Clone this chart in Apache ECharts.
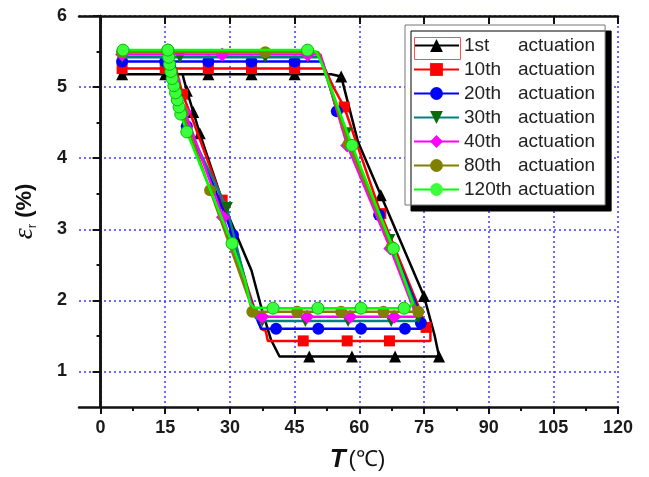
<!DOCTYPE html>
<html>
<head>
<meta charset="utf-8">
<script src="https://cdn.jsdelivr.net/npm/echarts@6/dist/echarts.min.js"></script>
<style>
  html, body { margin: 0; padding: 0; background: #fff; }
  #chart { width: 649px; height: 477px; }
</style>
</head>
<body>
<div id="chart"></div>
<script>
// cycle labels (legend)
const cycles = ["1st", "10th", "20th", "30th", "40th", "80th", "120th"];

// tick labels
const xTicks = [0, 15, 30, 45, 60, 75, 90, 105, 120];
const xMinorTicks = [7.5, 22.5, 37.5, 52.5, 67.5, 82.5, 97.5, 112.5];
const yTicks = [1, 2, 3, 4, 5, 6];
const yMinorTicks = [1.5, 2.5, 3.5, 4.5, 5.5];

// [T (°C), strain (%), marker shown 1/0], traced around each loop
const loop1st = [
  [5, 5.18, 1], [15, 5.18, 1], [25, 5.18, 1], [35, 5.18, 1], [45, 5.18, 1], [53.5, 5.18, 0],
  [55.8, 5.15, 1], [59.7, 4.23, 0], [65, 3.48, 1], [75, 2.06, 1], [77.5, 1.5, 0], [78.5, 1.21, 1],
  [68.3, 1.21, 1], [58.3, 1.21, 1], [48.4, 1.21, 1], [41.5, 1.21, 0], [39.5, 1.45, 0], [37.5, 1.85, 0],
  [35, 2.42, 0], [28.4, 3.37, 1], [23, 4.35, 1], [21.5, 4.65, 1], [20, 4.95, 1], [19, 5.18, 0]
];
const loop10th = [
  [5, 5.26, 1], [15, 5.26, 1], [25, 5.26, 1], [35, 5.26, 1], [45, 5.26, 1], [52, 5.26, 0],
  [54, 5.0, 0], [56.5, 4.72, 1], [65, 3.22, 1], [73.5, 1.95, 0], [75.5, 1.62, 1], [76.5, 1.58, 0],
  [76.5, 1.43, 0], [67, 1.43, 1], [57.2, 1.43, 1], [47, 1.43, 1], [38.8, 1.43, 0], [38.3, 1.57, 0],
  [37.2, 1.6, 0], [34, 2.2, 0], [28.2, 3.41, 1], [21, 4.6, 0], [19, 4.9, 1], [17.5, 5.26, 0]
];
const loop20th = [
  [5, 5.36, 1], [15, 5.36, 1], [25, 5.36, 1], [35, 5.36, 1], [45, 5.36, 1], [51.5, 5.36, 0],
  [54.8, 4.66, 1], [64.6, 3.2, 1], [73.5, 1.9, 0], [74.3, 1.68, 1], [74.3, 1.6, 0],
  [70.6, 1.6, 1], [60.4, 1.6, 1], [50.5, 1.6, 1], [40.7, 1.6, 1], [37.3, 1.6, 0], [36.5, 1.7, 0],
  [34, 2.15, 0], [30.7, 2.92, 1], [25, 3.8, 0], [20, 4.45, 1], [17, 5.36, 0]
];
const loop30th = [
  [5, 5.42, 1], [18.4, 5.42, 1], [38.2, 5.42, 1], [48.1, 5.42, 1], [51, 5.42, 0],
  [57, 4.35, 1], [67, 2.85, 1], [73.5, 1.85, 0], [73.7, 1.76, 1], [73, 1.71, 0],
  [67.4, 1.71, 1], [57.4, 1.71, 1], [47.5, 1.71, 1], [37.5, 1.71, 1], [36, 1.75, 0],
  [34.5, 2.05, 0], [29.3, 3.3, 1], [19, 4.6, 1], [17, 5.0, 1], [16, 5.42, 0]
];
const loop40th = [
  [5, 5.46, 1], [28.2, 5.46, 1], [48, 5.46, 1], [51, 5.46, 0],
  [57.2, 4.18, 1], [67.2, 2.73, 1], [72.5, 1.9, 0], [73, 1.77, 0],
  [68.1, 1.77, 1], [57.9, 1.77, 1], [47.9, 1.77, 1], [37.5, 1.77, 1], [35.5, 1.85, 0],
  [34.2, 2.1, 0], [28.4, 3.17, 1], [19.6, 4.65, 1], [17, 5.1, 1], [16, 5.46, 0]
];
const loop80th = [
  [5, 5.49, 1], [38.2, 5.49, 1], [50.5, 5.49, 0],
  [57.5, 4.2, 1], [67.5, 2.75, 1], [72.5, 1.95, 0], [73.7, 1.84, 1],
  [65.6, 1.84, 1], [55.8, 1.84, 1], [45.6, 1.84, 1], [35.2, 1.84, 1], [34.5, 2.0, 0],
  [25.4, 3.55, 1], [19, 4.65, 1], [16.5, 5.2, 1], [15.8, 5.49, 0]
];
const loop120th = [
  [5.2, 5.52, 1], [15.6, 5.52, 1], [48, 5.52, 1], [50, 5.5, 0], [51.5, 5.3, 0],
  [58.3, 4.18, 1], [67.9, 2.73, 1], [72.4, 1.96, 0], [71.5, 1.89, 0],
  [70.4, 1.89, 1], [60.4, 1.89, 1], [50.4, 1.89, 1], [40, 1.89, 1], [35.5, 1.9, 0],
  [34.7, 1.96, 0], [33.5, 2.28, 0], [30.5, 2.8, 1], [20, 4.37, 1], [18.6, 4.62, 1],
  [18.2, 4.72, 1], [17.8, 4.82, 1], [17.4, 4.92, 1], [17, 5.02, 1], [16.6, 5.12, 1],
  [16.3, 5.22, 1], [16, 5.32, 1], [15.8, 5.42, 1], [15.6, 5.52, 1]
];

const loops = [loop1st, loop10th, loop20th, loop30th, loop40th, loop80th, loop120th];

const styles = [
  { line: "#000000", fill: "#000000", symbol: "triangle", size: 12, rotate: 0 },
  { line: "#ff0000", fill: "#ff0000", symbol: "rect", size: 11, rotate: 0 },
  { line: "#0000ff", fill: "#0000ff", symbol: "circle", size: 12, rotate: 0 },
  { line: "#008080", fill: "#0b6b0b", symbol: "triangle", size: 12, rotate: 180 },
  { line: "#ff00ff", fill: "#ff00ff", symbol: "diamond", size: 14, rotate: 0 },
  { line: "#808000", fill: "#808000", symbol: "circle", size: 12, rotate: 0 },
  { line: "#00ff00", fill: "#3cff3c", symbol: "circle", size: 12, rotate: 0 }
];

const FONT = 'Arial, "Liberation Sans", sans-serif';
const gridBlue = { color: "#3a3aff", width: 1.5, type: [2, 3] };

const chart = echarts.init(document.getElementById("chart"));

const series = loops.map((loop, i) => {
  const s = styles[i];
  return {
    name: cycles[i] + " actuation",
    type: "line",
    xAxisIndex: 0,
    yAxisIndex: 0,
    data: loop.map((p) => (p[2] ? { value: [p[0], p[1]] } : { value: [p[0], p[1]], symbol: "none" })),
    symbol: s.symbol,
    symbolSize: s.size,
    symbolRotate: s.rotate,
    showSymbol: true,
    lineStyle: { color: s.line, width: 2.5 },
    itemStyle: { color: s.fill, borderColor: i === 6 ? "#00c000" : s.fill, borderWidth: i === 6 ? 1 : 0 },
    z: 3 + i
  };
});

const option = {
  animation: false,
  backgroundColor: "#fff",
  grid: { left: 79, right: 31, top: 16, bottom: 70, outerBoundsMode: "none" },
  xAxis: [
    {
      type: "value",
      position: "bottom",
      min: -5,
      max: 120,
      name: "{t|T}{u|(℃)}",
      nameLocation: "middle",
      nameGap: 40,
      nameTextStyle: {
        padding: [0, 0, 0, 18],
        rich: {
          t: { fontFamily: FONT, fontSize: 26, fontStyle: "italic", fontWeight: "bold", color: "#111" },
          u: { fontFamily: FONT, fontSize: 22, color: "#111", padding: [0, 0, 0, 3] }
        }
      },
      axisLine: { show: true, lineStyle: { color: "#111", width: 2.5 } },
      axisTick: { show: true, inside: false, length: 7, customValues: xTicks, lineStyle: { color: "#111", width: 2 } },
      axisLabel: { customValues: xTicks, margin: 12, fontFamily: FONT, fontSize: 18, fontWeight: "bold", color: "#1a1a1a" },
      splitLine: { show: true, lineStyle: gridBlue }
    },
    {
      type: "value",
      position: "bottom",
      min: -5,
      max: 120,
      axisLine: { show: false },
      axisTick: { show: true, inside: false, length: 4, customValues: xMinorTicks, lineStyle: { color: "#111", width: 2 } },
      axisLabel: { show: false },
      splitLine: { show: false }
    },
    {
      type: "value",
      position: "top",
      min: -5,
      max: 120,
      axisLine: { show: true, lineStyle: { color: "#111", width: 2.5 } },
      axisTick: { show: true, inside: true, length: 8, customValues: xTicks, lineStyle: { color: "#111", width: 2 } },
      axisLabel: { show: false },
      splitLine: { show: false }
    }
  ],
  yAxis: [
    {
      type: "value",
      position: "left",
      min: 0.5,
      max: 6,
      name: "{e|ε}{s|r}{p| (%)}",
      nameLocation: "middle",
      nameGap: 40,
      nameTextStyle: {
        rich: {
          e: { fontFamily: '"Liberation Serif", serif', fontSize: 28, fontStyle: "italic", color: "#111" },
          s: { fontFamily: FONT, fontSize: 13, color: "#111", verticalAlign: "bottom", padding: [8, 0, 0, 0] },
          p: { fontFamily: FONT, fontSize: 22, fontWeight: "bold", color: "#111" }
        }
      },
      axisLine: { show: true, lineStyle: { color: "#111", width: 2.5 } },
      axisTick: { show: true, inside: false, length: 7, customValues: yTicks, lineStyle: { color: "#111", width: 2 } },
      axisLabel: { customValues: yTicks, margin: 12, fontFamily: FONT, fontSize: 18, fontWeight: "bold", color: "#1a1a1a" },
      splitLine: { show: true, lineStyle: gridBlue }
    },
    {
      type: "value",
      position: "left",
      min: 0.5,
      max: 6,
      axisLine: { show: false },
      axisTick: { show: true, inside: false, length: 4, customValues: yMinorTicks, lineStyle: { color: "#111", width: 2 } },
      axisLabel: { show: false },
      splitLine: { show: false }
    },
    {
      type: "value",
      position: "right",
      min: 0.5,
      max: 6,
      axisLine: { show: true, lineStyle: { color: "#111", width: 2.5 } },
      axisTick: { show: true, inside: true, length: 8, customValues: yTicks, lineStyle: { color: "#111", width: 2 } },
      axisLabel: { show: false },
      splitLine: { show: false }
    }
  ],
  legend: {
    orient: "vertical",
    left: 405,
    top: 25,
    padding: [11, 10, 6, 8],
    itemWidth: 45,
    itemHeight: 16,
    itemGap: 5,
    itemStyle: { borderWidth: 0 },
    backgroundColor: "#fff",
    borderColor: "#777",
    borderWidth: 1,
    shadowColor: "#000",
    shadowBlur: 0,
    shadowOffsetX: 6,
    shadowOffsetY: 6,
    selectedMode: false,
    formatter: (name) => {
      const parts = name.split(" ");
      return "{a|" + parts[0] + "}{b|" + parts[1] + "}";
    },
    textStyle: {
      rich: {
        a: { fontFamily: FONT, fontSize: 19, color: "#222", width: 54, lineHeight: 20 },
        b: { fontFamily: FONT, fontSize: 19, color: "#222", lineHeight: 20 }
      }
    },
    data: cycles.map((c) => c + " actuation")
  },
  graphic: [
    {
      type: "rect",
      left: 412,
      top: 35,
      shape: { width: 46, height: 22 },
      style: { fill: null, stroke: "#ff5050", lineWidth: 1 },
      z: 200
    }
  ],
  series
};

chart.setOption(option);
</script>
</body>
</html>
